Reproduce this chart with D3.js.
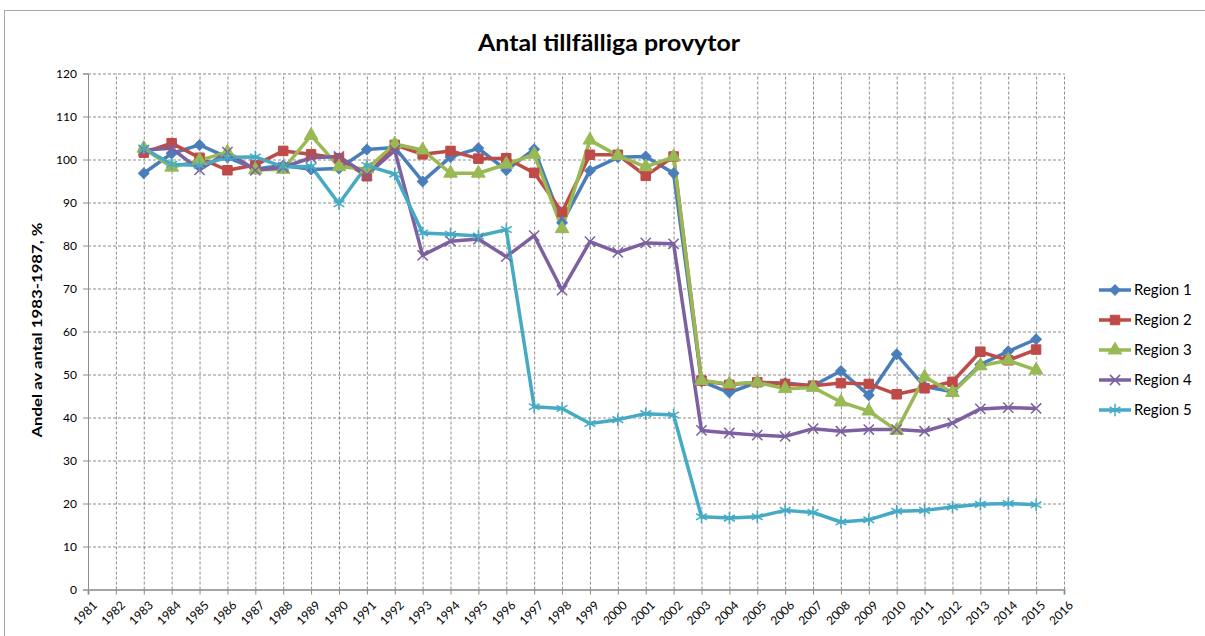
<!DOCTYPE html>
<html>
<head>
<meta charset="utf-8">
<script src="https://cdn.jsdelivr.net/npm/d3@7"></script>
<style>
  html, body { margin: 0; padding: 0; background: #fff; }
  svg { display: block; }
  text { font-family: Lato, "Noto Sans", sans-serif; }
</style>
</head>
<body>
<svg id="chart" width="1205" height="636"></svg>
<script>
const tickYears = d3.range(1981, 2017).map(String);
const years = d3.range(1983, 2016).map(String);
const yTicks = [0, 10, 20, 30, 40, 50, 60, 70, 80, 90, 100, 110, 120];
const seriesNames = ["Region 1", "Region 2", "Region 3", "Region 4", "Region 5"];

const region1 = [96.8, 101.4, 103.4, 100.5, 97.8, 98.6, 97.7, 97.9, 102.3, 102.8, 94.9, 100.6, 102.6, 97.5, 102.4, 85.3, 97.4, 100.5, 100.7, 96.8,
  48.4, 45.8, 48.2, 48.0, 47.4, 50.8, 45.2, 54.7, 47.2, 46.0, 52.3, 55.4, 58.2];
const region2 = [101.6, 103.8, 100.4, 97.5, 98.7, 102.0, 101.2, 100.3, 96.1, 103.4, 101.2, 102.0, 100.2, 100.3, 96.9, 87.8, 101.1, 101.1, 96.2, 100.7,
  48.6, 47.6, 48.2, 47.8, 47.4, 48.0, 47.8, 45.4, 46.8, 48.3, 55.3, 53.3, 55.8];
const region3 = [102.6, 98.2, 99.8, 101.7, 97.6, 97.7, 105.6, 98.3, 97.8, 103.6, 102.2, 96.8, 96.8, 98.9, 101.2, 83.9, 104.5, 100.9, 98.3, 100.6,
  48.6, 47.8, 48.2, 46.7, 47.0, 43.6, 41.5, 37.0, 49.4, 45.8, 52.0, 53.3, 51.0];
const region4 = [102.2, 102.6, 97.6, 101.7, 97.5, 98.2, 100.4, 100.7, 96.4, 102.1, 77.7, 81.0, 81.5, 77.4, 82.3, 69.6, 80.9, 78.4, 80.6, 80.4,
  37.0, 36.4, 35.9, 35.6, 37.4, 36.8, 37.2, 37.2, 36.8, 38.7, 42.0, 42.3, 42.1];
const region5 = [102.6, 98.9, 98.6, 100.5, 100.6, 98.3, 98.4, 89.7, 98.6, 96.6, 82.9, 82.6, 82.2, 83.7, 42.5, 42.1, 38.6, 39.5, 40.9, 40.6,
  16.9, 16.6, 16.9, 18.4, 17.9, 15.7, 16.2, 18.2, 18.4, 19.2, 19.8, 20.0, 19.7];

const seriesValues = [region1, region2, region3, region4, region5];
const colors = ["#4A7EBB", "#BE4B48", "#98B954", "#7D60A0", "#46AAC5"];

const svg = d3.select("#chart");

// chart border
svg.append("rect")
  .attr("x", 4.5).attr("y", 10.5)
  .attr("width", 1220).attr("height", 640)
  .attr("fill", "#fff").attr("stroke", "#a6a6a6").attr("stroke-width", 1);

const pLeft = 88, pRight = 1064, pTop = 73.5, pBottom = 589.5;
const x = d3.scalePoint().domain(tickYears).range([pLeft, pRight]);
const y = d3.scaleLinear().domain([0, 120]).range([pBottom, pTop]);

// title
svg.append("text")
  .attr("x", 609).attr("y", 51)
  .attr("text-anchor", "middle")
  .attr("font-size", 23).attr("font-weight", "bold")
  .attr("fill", "#000")
  .attr("textLength", 262).attr("lengthAdjust", "spacingAndGlyphs")
  .text("Antal tillfälliga provytor");

// horizontal grid
const gy = svg.append("g")
  .attr("transform", `translate(${pLeft},0)`)
  .call(d3.axisLeft(y).tickValues(yTicks.filter(d => d > 0)).tickSize(-(pRight - pLeft)).tickFormat(""));
gy.select(".domain").remove();
gy.selectAll("line").attr("stroke", "#8c8c8c").attr("stroke-dasharray", "3,2").attr("stroke-width", 1);

// vertical grid
const gx = svg.append("g")
  .attr("transform", `translate(0,${pBottom})`)
  .call(d3.axisBottom(x).tickValues(tickYears.slice(1)).tickSize(-(pBottom - pTop)).tickFormat(""));
gx.select(".domain").remove();
gx.selectAll("line").attr("stroke", "#8c8c8c").attr("stroke-dasharray", "3,2").attr("stroke-width", 1);

// y axis
const ay = svg.append("g")
  .attr("transform", `translate(${pLeft},0)`)
  .call(d3.axisLeft(y).tickValues(yTicks).tickSize(5).tickPadding(6));
ay.select(".domain").attr("stroke", "#8c8c8c");
ay.selectAll("line").attr("stroke", "#8c8c8c");
ay.selectAll("text").attr("font-size", 12).attr("fill", "#000")
  .style("font-family", "Lato, 'Noto Sans', sans-serif");

// x axis
const ax = svg.append("g")
  .attr("transform", `translate(0,${pBottom})`)
  .call(d3.axisBottom(x).tickValues(tickYears).tickSize(5).tickPadding(0));
ax.select(".domain").attr("stroke", "#a6a6a6").attr("stroke-width", 2);
ax.selectAll("line").attr("stroke", "#8c8c8c");
ax.selectAll("text")
  .attr("font-size", 12).attr("fill", "#000")
  .style("font-family", "Lato, 'Noto Sans', sans-serif")
  .attr("text-anchor", "end")
  .attr("dy", "0")
  .attr("transform", "translate(6,13) rotate(-45)");

// y axis label
svg.append("text")
  .attr("transform", `translate(42,${330}) rotate(-90)`)
  .attr("text-anchor", "middle")
  .attr("font-size", 13).attr("font-weight", "bold")
  .attr("textLength", 215).attr("lengthAdjust", "spacingAndGlyphs")
  .text("Andel av antal 1983-1987, %");

// markers
function markerPath(i) {
  if (i === 0) return d3.symbol().type(d3.symbolSquare).size(56)();
  if (i === 1) return d3.symbol().type(d3.symbolSquare).size(90)();
  if (i === 2) return d3.symbol().type(d3.symbolTriangle).size(80)();
  if (i === 3) return d3.symbol().type(d3.symbolX).size(70)();
  return d3.symbol().type(d3.symbolAsterisk).size(110)();
}
function drawMarker(g, i, color) {
  const p = g.append("path").attr("d", markerPath(i));
  if (i === 0) p.attr("transform", "rotate(45)");
  if (i <= 2) p.attr("fill", color).attr("stroke", color).attr("stroke-width", 1);
  else p.attr("fill", "none").attr("stroke", color).attr("stroke-width", 1.5);
}

const line = d3.line().x((d, j) => x(years[j])).y(d => y(d));

seriesValues.forEach((vals, i) => {
  svg.append("path")
    .datum(vals)
    .attr("d", line)
    .attr("fill", "none")
    .attr("stroke", colors[i])
    .attr("stroke-width", 3.5)
    .attr("stroke-linejoin", "round");
});
seriesValues.forEach((vals, i) => {
  const g = svg.append("g");
  vals.forEach((v, j) => {
    const mg = g.append("g").attr("transform", `translate(${x(years[j])},${y(v)})`);
    drawMarker(mg, i, colors[i]);
  });
});

// legend
const legend = svg.append("g");
seriesNames.forEach((name, i) => {
  const ly = 290 + i * 30;
  legend.append("line")
    .attr("x1", 1099).attr("x2", 1131)
    .attr("y1", ly).attr("y2", ly)
    .attr("stroke", colors[i]).attr("stroke-width", 3.5);
  const mg = legend.append("g").attr("transform", `translate(1115,${ly})`);
  drawMarker(mg, i, colors[i]);
  legend.append("text")
    .attr("x", 1134).attr("y", ly + 5)
    .attr("font-size", 15)
    .text(name);
});
</script>
</body>
</html>
